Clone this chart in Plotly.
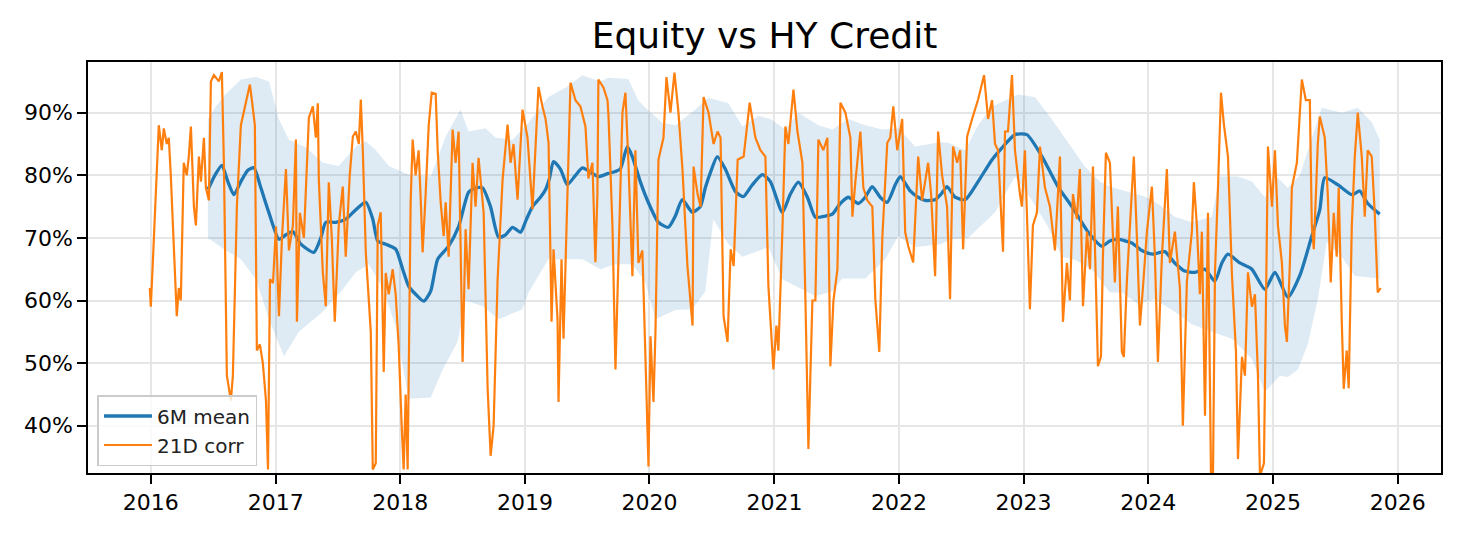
import datetime as dt
import math
import plotly.graph_objects as go

# ---------------- data (decimal years, percent) ----------------
corr_t = [2015.992, 2016.000, 2016.016, 2016.040, 2016.064, 2016.088, 2016.104, 2016.128, 2016.144, 2016.160,
          2016.184, 2016.208, 2016.224, 2016.240, 2016.264, 2016.288, 2016.304, 2016.321, 2016.345, 2016.361,
          2016.385, 2016.401, 2016.425, 2016.441, 2016.465, 2016.481, 2016.505, 2016.545, 2016.569, 2016.585,
          2016.609, 2016.625, 2016.641, 2016.657, 2016.689, 2016.721, 2016.753, 2016.777, 2016.793, 2016.809,
          2016.833, 2016.849, 2016.873, 2016.897, 2016.922, 2016.938, 2016.954, 2016.978, 2017.002, 2017.026,
          2017.050, 2017.082, 2017.106, 2017.138, 2017.162, 2017.170, 2017.194, 2017.226, 2017.266, 2017.298,
          2017.322, 2017.338, 2017.346, 2017.378, 2017.402, 2017.426, 2017.450, 2017.474, 2017.506, 2017.538,
          2017.562, 2017.594, 2017.619, 2017.643, 2017.667, 2017.683, 2017.699, 2017.723, 2017.747, 2017.763,
          2017.779, 2017.803, 2017.819, 2017.843, 2017.867, 2017.883, 2017.907, 2017.939, 2017.963, 2017.987,
          2018.011, 2018.027, 2018.043, 2018.059, 2018.083, 2018.099, 2018.123, 2018.147, 2018.163, 2018.179,
          2018.204, 2018.228, 2018.252, 2018.284, 2018.300, 2018.324, 2018.348, 2018.364, 2018.388, 2018.420,
          2018.444, 2018.468, 2018.500, 2018.524, 2018.548, 2018.580, 2018.604, 2018.628, 2018.669, 2018.701,
          2018.725, 2018.749, 2018.781, 2018.821, 2018.861, 2018.885, 2018.909, 2018.941, 2018.981, 2019.021,
          2019.061, 2019.085, 2019.109, 2019.141, 2019.166, 2019.190, 2019.214, 2019.230, 2019.262, 2019.270,
          2019.294, 2019.310, 2019.342, 2019.366, 2019.406, 2019.446, 2019.486, 2019.510, 2019.542, 2019.566,
          2019.582, 2019.590, 2019.631, 2019.663, 2019.671, 2019.703, 2019.727, 2019.751, 2019.783, 2019.807,
          2019.831, 2019.863, 2019.887, 2019.911, 2019.943, 2019.968, 2019.992, 2020.008, 2020.032, 2020.048,
          2020.072, 2020.112, 2020.136, 2020.168, 2020.200, 2020.232, 2020.264, 2020.304, 2020.345, 2020.353,
          2020.385, 2020.409, 2020.433, 2020.473, 2020.513, 2020.545, 2020.569, 2020.593, 2020.625, 2020.650,
          2020.674, 2020.706, 2020.754, 2020.802, 2020.848, 2020.888, 2020.928, 2020.952, 2020.992, 2021.016,
          2021.032, 2021.064, 2021.088, 2021.112, 2021.153, 2021.185, 2021.225, 2021.249, 2021.273, 2021.305,
          2021.329, 2021.353, 2021.393, 2021.425, 2021.449, 2021.474, 2021.506, 2021.530, 2021.570, 2021.610,
          2021.626, 2021.650, 2021.690, 2021.714, 2021.746, 2021.786, 2021.810, 2021.842, 2021.866, 2021.906,
          2021.930, 2021.954, 2021.986, 2022.026, 2022.050, 2022.074, 2022.114, 2022.154, 2022.186, 2022.234,
          2022.258, 2022.290, 2022.314, 2022.346, 2022.386, 2022.410, 2022.434, 2022.467, 2022.491, 2022.515,
          2022.547, 2022.587, 2022.635, 2022.683, 2022.715, 2022.747, 2022.771, 2022.795, 2022.827, 2022.835,
          2022.851, 2022.875, 2022.907, 2022.931, 2022.971, 2022.987, 2023.011, 2023.051, 2023.075, 2023.107,
          2023.132, 2023.172, 2023.212, 2023.252, 2023.292, 2023.316, 2023.348, 2023.372, 2023.396, 2023.428,
          2023.452, 2023.477, 2023.509, 2023.533, 2023.557, 2023.573, 2023.597, 2023.621, 2023.637, 2023.661,
          2023.693, 2023.733, 2023.757, 2023.789, 2023.805, 2023.829, 2023.853, 2023.885, 2023.910, 2023.934,
          2023.958, 2023.990, 2024.030, 2024.054, 2024.078, 2024.110, 2024.150, 2024.174, 2024.214, 2024.254,
          2024.278, 2024.310, 2024.350, 2024.366, 2024.390, 2024.414, 2024.430, 2024.455, 2024.479, 2024.503,
          2024.519, 2024.535, 2024.559, 2024.583, 2024.607, 2024.639, 2024.671, 2024.703, 2024.719, 2024.751,
          2024.775, 2024.799, 2024.831, 2024.855, 2024.879, 2024.895, 2024.927, 2024.943, 2024.959, 2024.991,
          2025.015, 2025.039, 2025.071, 2025.095, 2025.111, 2025.135, 2025.151, 2025.191, 2025.231, 2025.263,
          2025.295, 2025.311, 2025.327, 2025.359, 2025.375, 2025.415, 2025.439, 2025.463, 2025.487, 2025.511,
          2025.527, 2025.551, 2025.567, 2025.591, 2025.607, 2025.632, 2025.656, 2025.680, 2025.712, 2025.736,
          2025.760, 2025.792, 2025.816, 2025.840, 2025.864]
corr_v = [62.0, 59.0, 66.0, 78.0, 88.0, 84.0, 87.5, 85.0, 86.0, 80.0,
          70.0, 57.5, 62.0, 60.0, 82.0, 80.0, 83.0, 87.8, 75.0, 72.0,
          83.0, 79.0, 86.0, 78.0, 76.0, 95.0, 96.0, 95.0, 96.5, 82.0,
          48.0, 46.0, 44.0, 48.0, 75.0, 88.0, 91.0, 93.0, 94.5, 92.0,
          88.0, 52.0, 53.0, 50.0, 44.0, 33.0, 63.4, 62.8, 71.8, 57.5,
          70.0, 81.0, 68.0, 72.0, 85.7, 56.6, 74.0, 70.0, 89.2, 91.0,
          86.0, 91.5, 79.3, 64.5, 59.1, 78.9, 70.0, 56.6, 72.0, 78.2,
          67.0, 80.0, 86.2, 87.0, 85.0, 92.1, 84.0, 67.7, 60.0, 55.0,
          33.0, 34.0, 72.0, 74.1, 48.6, 64.4, 61.0, 65.0, 61.0, 52.7,
          40.0, 33.0, 45.0, 33.0, 75.7, 85.7, 80.0, 84.0, 76.6, 67.7,
          77.3, 88.0, 93.2, 93.0, 84.0, 75.7, 70.3, 75.7, 67.0, 87.3,
          82.0, 87.0, 50.2, 71.4, 61.8, 82.0, 75.0, 82.8, 74.0, 45.9,
          35.2, 40.0, 63.4, 79.3, 88.1, 82.0, 85.0, 76.1, 90.5, 86.0,
          74.6, 85.0, 94.1, 91.0, 89.0, 85.2, 56.6, 68.2, 57.0, 43.8,
          66.6, 53.9, 77.3, 94.8, 92.0, 91.0, 87.8, 79.5, 82.0, 66.1,
          77.0, 95.3, 94.0, 92.0, 89.5, 71.8, 49.0, 68.0, 90.0, 93.2,
          82.0, 63.9, 84.0, 66.0, 68.0, 50.7, 33.5, 54.3, 43.8, 55.0,
          82.5, 86.0, 95.7, 90.0, 96.4, 90.0, 81.0, 65.5, 56.0, 81.4,
          77.0, 75.0, 92.5, 90.0, 85.0, 87.0, 86.0, 57.5, 53.4, 68.2,
          65.5, 82.5, 83.0, 91.6, 86.0, 84.0, 83.0, 62.3, 49.0, 56.0,
          52.0, 71.0, 87.8, 85.0, 93.7, 87.0, 82.0, 60.2, 36.3, 60.0,
          60.0, 85.7, 84.0, 86.0, 49.5, 60.0, 65.0, 91.6, 90.0, 86.0,
          73.4, 79.0, 87.0, 78.0, 76.0, 75.0, 60.2, 51.8, 70.0, 85.2,
          86.0, 91.0, 84.0, 89.0, 70.9, 68.7, 66.1, 83.0, 76.0, 82.0,
          77.0, 63.9, 87.0, 80.0, 75.0, 60.2, 84.6, 82.0, 84.0, 68.2,
          86.2, 89.0, 92.1, 96.0, 89.0, 92.0, 85.0, 84.0, 72.0, 67.8,
          87.0, 87.0, 96.0, 84.0, 77.0, 75.0, 84.0, 58.6, 72.0, 74.0,
          84.6, 78.0, 75.0, 68.0, 83.0, 56.6, 66.0, 60.0, 77.0, 73.0,
          81.0, 59.1, 71.0, 65.0, 81.4, 67.0, 49.5, 51.0, 67.0, 83.6,
          82.0, 62.9, 75.0, 51.8, 51.0, 63.0, 71.0, 83.0, 70.0, 56.0,
          62.0, 71.0, 78.2, 67.0, 50.2, 67.0, 81.0, 66.0, 71.0, 62.0,
          40.0, 63.0, 71.0, 78.9, 72.0, 61.0, 71.0, 41.6, 74.0, 32.0,
          32.0, 64.5, 78.0, 93.2, 88.0, 83.0, 64.0, 51.8, 34.7, 51.0,
          48.0, 64.5, 59.0, 61.0, 48.0, 32.0, 34.0, 60.0, 84.6, 75.0,
          84.0, 72.0, 66.0, 56.0, 53.4, 66.0, 78.0, 82.0, 95.3, 92.0,
          92.0, 72.0, 68.2, 85.0, 89.4, 86.0, 77.0, 62.9, 74.0, 67.0,
          78.0, 57.0, 45.9, 52.0, 46.0, 72.0, 83.0, 90.0, 83.0, 73.4,
          84.0, 83.0, 74.0, 61.3, 62.0]

mean_t = [2016.457, 2016.513, 2016.569, 2016.617, 2016.665, 2016.721, 2016.777, 2016.825, 2016.881, 2016.946,
          2017.026, 2017.082, 2017.138, 2017.202, 2017.306, 2017.362, 2017.402, 2017.482, 2017.563, 2017.643,
          2017.723, 2017.779, 2017.819, 2017.883, 2017.963, 2018.019, 2018.067, 2018.123, 2018.188, 2018.244,
          2018.300, 2018.388, 2018.468, 2018.548, 2018.604, 2018.660, 2018.724, 2018.789, 2018.845, 2018.901,
          2018.965, 2019.013, 2019.061, 2019.125, 2019.165, 2019.197, 2019.229, 2019.285, 2019.341, 2019.406,
          2019.462, 2019.526, 2019.590, 2019.670, 2019.726, 2019.766, 2019.822, 2019.862, 2019.926, 2019.990,
          2020.071, 2020.151, 2020.207, 2020.263, 2020.343, 2020.407, 2020.447, 2020.487, 2020.543, 2020.607,
          2020.688, 2020.752, 2020.824, 2020.904, 2020.968, 2021.064, 2021.128, 2021.192, 2021.265, 2021.329,
          2021.409, 2021.465, 2021.529, 2021.593, 2021.673, 2021.729, 2021.785, 2021.849, 2021.906, 2021.970,
          2022.010, 2022.090, 2022.146, 2022.210, 2022.290, 2022.338, 2022.386, 2022.450, 2022.531, 2022.635,
          2022.747, 2022.827, 2022.931, 2023.027, 2023.148, 2023.276, 2023.388, 2023.516, 2023.628, 2023.692,
          2023.749, 2023.869, 2023.949, 2024.037, 2024.133, 2024.213, 2024.293, 2024.374, 2024.454, 2024.534,
          2024.590, 2024.638, 2024.734, 2024.830, 2024.934, 2025.015, 2025.119, 2025.215, 2025.311, 2025.375,
          2025.415, 2025.519, 2025.632, 2025.696, 2025.760, 2025.856]
mean_v = [77.7, 80.0, 81.6, 79.0, 76.9, 79.0, 80.8, 81.2, 78.0, 74.0,
          69.8, 70.5, 71.0, 69.0, 67.7, 70.0, 72.5, 72.5, 73.0, 74.5,
          75.7, 73.0, 69.5, 69.0, 68.2, 65.0, 62.3, 61.0, 59.9, 61.5,
          66.6, 68.7, 71.8, 77.3, 78.0, 78.0, 75.0, 70.1, 70.5, 71.7,
          70.9, 73.0, 75.0, 76.5, 77.7, 79.5, 82.2, 81.0, 78.5, 80.0,
          81.2, 80.5, 79.8, 80.3, 80.6, 81.0, 84.6, 83.0, 79.0, 75.7,
          72.5, 71.7, 73.5, 76.1, 74.1, 75.0, 78.0, 80.4, 83.0, 81.0,
          77.4, 76.6, 78.5, 80.1, 79.0, 74.1, 77.0, 78.9, 76.5, 73.3,
          73.5, 73.8, 75.5, 76.5, 75.5, 76.5, 78.2, 76.5, 75.7, 78.5,
          79.8, 77.5, 76.6, 76.0, 76.1, 77.0, 78.2, 76.5, 76.1, 79.0,
          82.5, 84.4, 86.5, 86.5, 83.0, 78.2, 75.0, 71.0, 68.7, 69.5,
          69.8, 69.2, 68.0, 67.4, 67.8, 66.0, 64.7, 64.5, 65.0, 63.1,
          66.0, 67.4, 66.0, 65.0, 61.8, 64.5, 60.5, 64.0, 70.3, 74.5,
          79.6, 78.5, 76.9, 77.5, 75.5, 73.8]

band_hi_t = [2016.457, 2016.521, 2016.601, 2016.721, 2016.841, 2016.946, 2017.026, 2017.106, 2017.242, 2017.378,
             2017.506, 2017.643, 2017.723, 2017.803, 2017.907, 2018.067, 2018.244, 2018.364, 2018.484, 2018.548,
             2018.684, 2018.765, 2018.901, 2019.029, 2019.189, 2019.325, 2019.462, 2019.606, 2019.670, 2019.830,
             2019.910, 2019.982, 2020.103, 2020.207, 2020.367, 2020.471, 2020.632, 2020.744, 2020.872, 2020.968,
             2021.088, 2021.192, 2021.353, 2021.465, 2021.593, 2021.729, 2021.866, 2021.994, 2022.130, 2022.330,
             2022.394, 2022.531, 2022.635, 2022.747, 2022.955, 2023.091, 2023.228, 2023.356, 2023.492, 2023.612,
             2023.692, 2023.813, 2023.973, 2024.077, 2024.213, 2024.350, 2024.510, 2024.574, 2024.718, 2024.830,
             2024.934, 2025.015, 2025.119, 2025.215, 2025.311, 2025.391, 2025.551, 2025.680, 2025.792, 2025.856]
band_hi_v = [89.0, 91.0, 93.0, 95.3, 95.7, 95.0, 88.9, 85.7, 84.5, 82.0,
             81.5, 84.6, 85.5, 84.0, 81.5, 80.1, 79.8, 86.2, 90.5, 87.0,
             87.5, 86.0, 85.7, 88.4, 92.5, 94.0, 96.0, 95.0, 95.6, 95.4,
             92.0, 90.5, 88.4, 88.0, 90.5, 92.4, 91.5, 87.8, 89.5, 89.0,
             87.3, 90.0, 88.0, 87.3, 89.0, 88.0, 87.3, 87.5, 84.6, 85.3,
             85.2, 84.0, 88.0, 91.0, 92.9, 92.5, 88.9, 85.2, 81.4, 79.0,
             78.2, 77.5, 76.6, 75.5, 73.4, 72.5, 73.4, 79.8, 79.8, 79.0,
             76.5, 80.0, 78.0, 80.0, 86.0, 90.8, 90.0, 90.8, 88.5, 85.7]

band_lo_t = [2016.457, 2016.601, 2016.721, 2016.841, 2016.946, 2017.066, 2017.186, 2017.378, 2017.539, 2017.643,
             2017.747, 2017.859, 2017.963, 2018.067, 2018.244, 2018.340, 2018.460, 2018.524, 2018.660, 2018.789,
             2018.981, 2019.029, 2019.189, 2019.462, 2019.606, 2019.726, 2019.862, 2019.966, 2020.047, 2020.207,
             2020.343, 2020.447, 2020.511, 2020.632, 2020.744, 2020.952, 2021.064, 2021.329, 2021.465, 2021.545,
             2021.729, 2021.890, 2021.994, 2022.130, 2022.330, 2022.426, 2022.555, 2022.771, 2022.931, 2023.067,
             2023.196, 2023.308, 2023.412, 2023.548, 2023.692, 2023.789, 2023.917, 2024.053, 2024.213, 2024.350,
             2024.510, 2024.670, 2024.830, 2024.934, 2025.055, 2025.119, 2025.199, 2025.279, 2025.359, 2025.431,
             2025.551, 2025.656, 2025.856]
band_lo_v = [70.0, 68.0, 66.6, 63.4, 57.0, 51.1, 55.0, 58.2, 61.8, 64.5,
             65.8, 62.0, 55.9, 44.3, 44.5, 49.0, 53.4, 60.0, 59.1, 57.0,
             58.6, 61.3, 66.6, 66.6, 65.0, 65.8, 65.8, 63.0, 57.0, 58.5,
             58.6, 61.5, 73.0, 69.0, 67.0, 68.5, 63.4, 60.7, 61.5, 63.5,
             63.5, 66.6, 70.3, 68.5, 69.0, 69.8, 70.0, 74.1, 79.8, 76.0,
             71.8, 67.0, 66.5, 65.0, 61.3, 61.3, 59.5, 60.2, 58.2, 56.2,
             55.0, 53.9, 50.7, 45.4, 48.0, 47.8, 49.0, 53.0, 60.2, 69.3,
             67.0, 63.9, 63.5]

year_ticks = list(range(2016, 2027))
pct_ticks = [40, 50, 60, 70, 80, 90]


def to_date(y):
    yr = int(math.floor(y))
    start = dt.datetime(yr, 1, 1)
    end = dt.datetime(yr + 1, 1, 1)
    return start + (end - start) * (y - yr)


band_x = [to_date(t) for t in band_hi_t] + [to_date(t) for t in band_lo_t[::-1]]
band_y = band_hi_v + band_lo_v[::-1]

fig = go.Figure()
fig.add_trace(go.Scatter(
    x=band_x, y=band_y, mode="lines", fill="toself",
    fillcolor="rgba(31,119,180,0.15)", line=dict(width=0),
    showlegend=False, hoverinfo="skip"))
fig.add_trace(go.Scatter(
    x=[to_date(t) for t in mean_t], y=mean_v, mode="lines",
    name="6M mean", line=dict(color="#1f77b4", width=3.3, shape="spline", smoothing=0.6)))
fig.add_trace(go.Scatter(
    x=[to_date(t) for t in corr_t], y=corr_v, mode="lines",
    name="21D corr", line=dict(color="#ff7f0e", width=2.2)))

axis_common = dict(
    showline=True, mirror=True, linecolor="black", linewidth=1.5,
    ticks="outside", ticklen=9, tickwidth=1.5, tickcolor="black",
    showgrid=True, gridcolor="#e6e6e6", gridwidth=1.5, zeroline=False,
    tickfont=dict(family="DejaVu Sans", size=22, color="black"),
)

# page body adds an 8px offset, so the figure is 8px smaller on each axis
fig.update_layout(
    width=1452, height=526,
    margin=dict(l=80, r=19, t=54, b=61),
    paper_bgcolor="white", plot_bgcolor="white",
    title=dict(text="Equity vs HY Credit", x=0.5, xref="paper", xanchor="center",
               y=1 - 27 / 526, yref="container", yanchor="middle",
               font=dict(family="DejaVu Sans", size=36, color="black")),
    xaxis=dict(
        type="date",
        range=[dt.datetime(2015, 7, 1), dt.datetime(2026, 5, 8)],
        tickvals=[dt.datetime(y, 1, 1) for y in year_ticks],
        ticktext=[str(y) for y in year_ticks],
        **axis_common),
    yaxis=dict(
        range=[32.45, 98.1],
        tickvals=pct_ticks,
        ticktext=[f"{p}%" for p in pct_ticks],
        **axis_common),
    legend=dict(
        x=0.007, y=0.017, xanchor="left", yanchor="bottom",
        bgcolor="rgba(255,255,255,0.8)", bordercolor="#cccccc", borderwidth=1.5,
        font=dict(family="DejaVu Sans", size=20, color="#222222"),
        itemwidth=48, tracegroupgap=2),
    showlegend=True,
)

fig.write_html("out.html")
